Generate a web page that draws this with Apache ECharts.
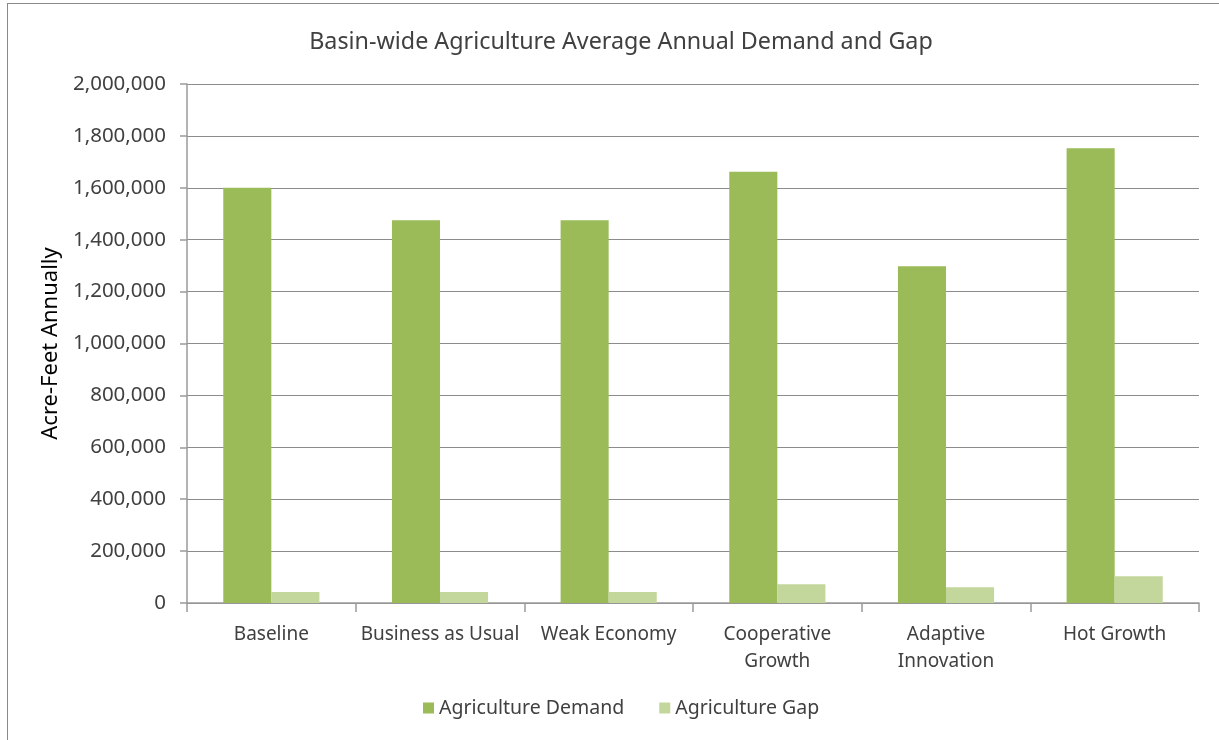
<!DOCTYPE html>
<html>
<head>
<meta charset="utf-8">
<script src="https://cdn.jsdelivr.net/npm/echarts@6/dist/echarts.min.js"></script>
<style>
  html, body { margin: 0; padding: 0; background: #fff; }
  #frame { position: absolute; left: 7px; top: 3px; width: 1220px; height: 745px; border: 1.5px solid #8a8a8a; box-sizing: border-box; }
  #chart { position: absolute; left: 0; top: 0; width: 1219px; height: 740px; }
</style>
</head>
<body>
<div id="frame"></div>
<div id="chart"></div>
<script>
// Scenario categories and annual values (acre-feet)
const categories = ['Baseline', 'Business as Usual', 'Weak Economy', 'Cooperative\nGrowth', 'Adaptive\nInnovation', 'Hot Growth'];
const demandValues = [1600000, 1475000, 1475000, 1662000, 1298000, 1752000];
const gapValues = [42000, 42000, 42000, 72000, 60500, 103000];
const seriesNames = ['Agriculture Demand', 'Agriculture Gap'];

const font = '"Noto Sans", "Open Sans", sans-serif';
const chart = echarts.init(document.getElementById('chart'), null, { renderer: 'canvas' });

chart.setOption({
  backgroundColor: 'transparent',
  animation: false,
  title: {
    text: 'Basin-wide Agriculture Average Annual Demand and Gap',
    left: 616, top: 26, textAlign: 'center',
    textStyle: { fontFamily: font, fontSize: 23.3, fontWeight: 'normal', color: '#404040' }
  },
  legend: {
    data: seriesNames,
    bottom: 17, left: 418,
    itemWidth: 11, itemHeight: 11, itemGap: 35,
    icon: 'rect',
    textStyle: { fontFamily: font, fontSize: 19.5, color: '#404040' }
  },
  grid: { left: 187, right: 20, top: 84, bottom: 137, containLabel: false },
  xAxis: {
    type: 'category',
    data: categories,
    axisLine: { lineStyle: { color: '#9a9a9a', width: 1.5 } },
    axisTick: { show: true, length: 9, lineStyle: { color: '#9a9a9a', width: 1.5 } },
    axisLabel: { fontFamily: font, fontSize: 19, color: '#404040', margin: 18, lineHeight: 27, interval: 0 }
  },
  yAxis: {
    type: 'value',
    min: 0, max: 2000000, interval: 200000,
    name: 'Acre-Feet Annually',
    nameLocation: 'middle',
    nameGap: 123,
    nameTextStyle: { fontFamily: font, fontSize: 22, color: '#000' },
    axisLine: { show: true, lineStyle: { color: '#9a9a9a', width: 1.5 } },
    axisTick: { show: true, length: 7, lineStyle: { color: '#9a9a9a', width: 1.5 } },
    splitLine: { lineStyle: { color: '#8c8c8c', width: 1.2 } },
    axisLabel: {
      fontFamily: font, fontSize: 20.5, color: '#404040', margin: 21,
      formatter: v => v.toLocaleString('en-US')
    }
  },
  series: [
    {
      name: seriesNames[0], type: 'bar', data: demandValues,
      barGap: '0%', barCategoryGap: '43%',
      itemStyle: { color: '#9BBB59' }
    },
    {
      name: seriesNames[1], type: 'bar', data: gapValues,
      itemStyle: { color: '#C3D69B' }
    }
  ]
});
</script>
</body>
</html>
